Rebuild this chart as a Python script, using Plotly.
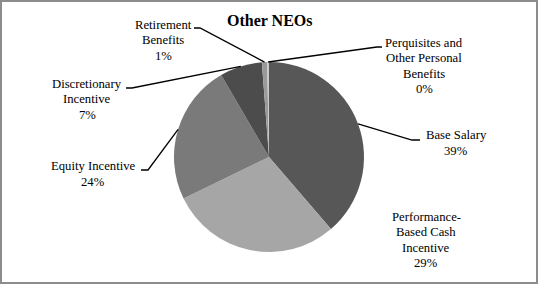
import math
import plotly.graph_objects as go

# ---- data ----
categories = ["Base Salary", "Performance-Based Cash Incentive", "Equity Incentive",
              "Discretionary Incentive", "Retirement Benefits",
              "Perquisites and Other Personal Benefits"]
label_lines = [["Base Salary"], ["Performance-", "Based Cash", "Incentive"],
               ["Equity Incentive"], ["Discretionary", "Incentive"],
               ["Retirement", "Benefits"], ["Perquisites and", "Other Personal", "Benefits"]]
values = [38.7, 29.1, 23.8, 7.2, 0.9, 0.3]
colors = ["#575757", "#a6a6a6", "#7a7a7a", "#4c4c4c", "#9a9a9a", "#c9c9c9"]
title_text = "Other NEOs"

# ---- layout geometry (pixels) ----
W, H = 538, 284
cx, cy, R = 269, 157, 95
LINE_H = 15.4
# label block centres (px) and leader elbow/end points (px); None = no leader
label_pos = [(456, 143), (426, 240), (93, 174), (87, 99.5), (163, 40.5), (424, 66)]
leaders = [((412, 140), (420, 140)), None, ((148, 170), (141, 170)),
           ((132, 88), (126, 88)), ((200, 28), (194, 28)), ((377, 47), (382, 47))]

def px(x):
    return x / W

def py(y):
    return 1 - y / H

fig = go.Figure(go.Pie(
    labels=categories, values=values, sort=False, direction="clockwise",
    rotation=0, textinfo="none", hoverinfo="label+percent",
    marker=dict(colors=colors, line=dict(width=0)),
    domain=dict(x=[px(cx - R), px(cx + R)], y=[py(cy + R), py(cy - R)]),
    showlegend=False,
))

total = sum(values)
cum = 0
annotations = []
shapes = []
font = dict(family="Liberation Serif, Times New Roman, serif", size=12.7, color="#000000")
for i, v in enumerate(values):
    mid = (cum + v / 2) / total * 2 * math.pi
    cum += v
    ex, ey = cx + R * math.sin(mid), cy - R * math.cos(mid)
    pct = f"{round(v / total * 100)}%"
    lines = label_lines[i] + [pct]
    lx, ly = label_pos[i]
    n = len(lines)
    for k, line in enumerate(lines):
        yk = ly + (k - (n - 1) / 2) * LINE_H
        annotations.append(dict(x=px(lx), y=py(yk), xref="paper", yref="paper",
                                text=line, showarrow=False, xanchor="center",
                                yanchor="middle", font=font))
    if leaders[i] is not None:
        (bx, by), (tx, ty) = leaders[i]
        path = f"M{px(ex)},{py(ey)} L{px(bx)},{py(by)} L{px(tx)},{py(ty)}"
        shapes.append(dict(type="path", path=path, xref="paper", yref="paper",
                           line=dict(color="#000000", width=1.3)))

annotations.append(dict(x=px(269), y=py(20), xref="paper", yref="paper",
                        text=f"<b>{title_text}</b>", showarrow=False,
                        xanchor="center", yanchor="middle",
                        font=dict(family="Liberation Serif, Times New Roman, serif",
                                  size=16, color="#000000")))

shapes.append(dict(type="rect", xref="paper", yref="paper", x0=0, x1=1, y0=0, y1=1,
                   line=dict(color="#8c8c8c", width=4)))

fig.update_layout(width=W, height=H, margin=dict(l=0, r=0, t=0, b=0),
                  paper_bgcolor="white", plot_bgcolor="white",
                  annotations=annotations, shapes=shapes)

fig.write_html("out.html")
